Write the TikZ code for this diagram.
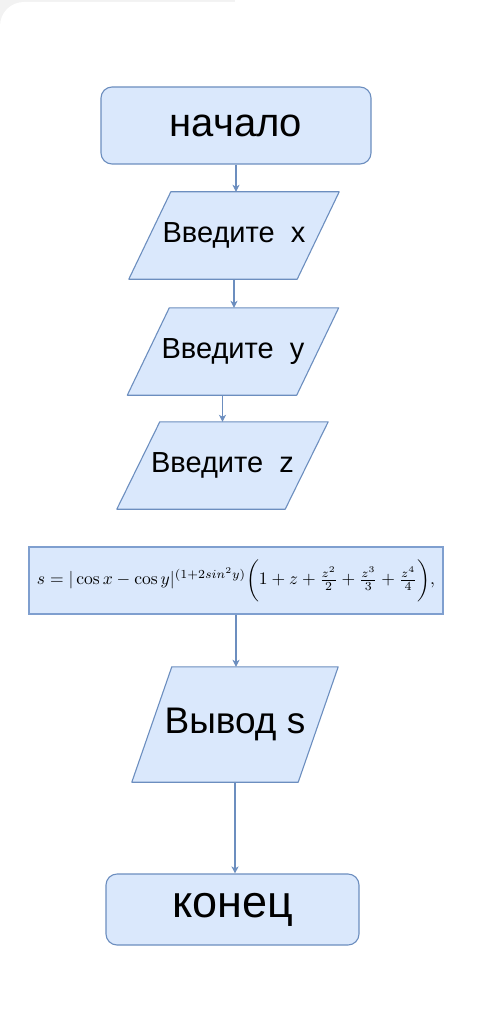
\documentclass[tikz,border=0pt]{standalone}
\usepackage{amsmath}
\usepackage[no-math]{fontspec}
\setmainfont{Liberation Sans}
\usepackage{graphicx}
\usetikzlibrary{arrows.meta,backgrounds}
\definecolor{boxfill}{HTML}{DAE8FC}
\definecolor{boxline}{HTML}{6C8EBF}
\definecolor{fline}{HTML}{7F9FCF}
\definecolor{bggray}{HTML}{F2F2F2}
\tikzset{
  term/.style={draw=boxline, fill=boxfill, line width=1.1pt, rounded corners=11pt, inner sep=0pt},
  iotext/.style={inner sep=0pt},
  iobox/.style={draw=boxline, fill=boxfill, line width=1.1pt, line join=round},
  calc/.style={draw=fline, fill=boxfill, line width=1.8pt, inner sep=0pt},
  arr/.style={draw=boxline, line width=1.1pt, -{Stealth[length=7pt,width=7pt,inset=2pt]}}
}
\newcommand\ioshape[2]{\path[iobox] ([xshift=#2]#1.north west) -- (#1.north east) -- ([xshift=-#2]#1.south east) -- (#1.south west) -- cycle;}
\begin{document}
\begin{tikzpicture}[x=1pt,y=-1pt]
\useasboundingbox (0,0) rectangle (476,1024);
\begin{scope}[on background layer]
\fill[bggray] (0,0) rectangle (476,1024);
\fill[white, rounded corners=24pt] (0,2) rectangle (540,1090);
\fill[white] (235,-1) rectangle (477,3);
\end{scope}
\node[term, minimum width=270pt, minimum height=77pt] (start) at (236,125.5) {\fontsize{40}{44}\selectfont начало};
\node[iotext, minimum width=210pt, minimum height=87pt] (in1) at (234,235.5) {\fontsize{29}{32}\selectfont Введите\ \ x};
\node[iotext, minimum width=211pt, minimum height=87pt] (in2) at (233,351.5) {\fontsize{29}{32}\selectfont Введите\ \ y};
\node[iotext, minimum width=211pt, minimum height=87pt] (in3) at (222.5,465.5) {\fontsize{29}{32}\selectfont Введите\ \ z};
\node[calc, minimum width=414pt, minimum height=67pt] (f) at (236,580.5)
  {\resizebox{398pt}{!}{$s=|\cos x-\cos y|^{(1+2sin^2y)}\biggl(1+z+\tfrac{z^2}{2}+\tfrac{z^3}{3}+\tfrac{z^4}{4}\biggr),$}};
\node[iotext, minimum width=206pt, minimum height=115pt] (out) at (235,724.5) {\fontsize{37}{40}\selectfont Вывод s};
\node[term, minimum width=253pt, minimum height=71pt] (end) at (232.5,909.5) {\fontsize{45}{48}\selectfont конец};
\begin{scope}[on background layer]
\ioshape{in1}{42pt}
\ioshape{in2}{42pt}
\ioshape{in3}{43pt}
\ioshape{out}{40pt}
\end{scope}
\draw[arr] (start.south) -- (start.south |- in1.north);
\draw[arr] (in1.south) -- (in1.south |- in2.north);
\draw[arr] (in3.north |- in2.south) -- (in3.north);
\draw[arr] (f.south) -- (f.south |- out.north);
\draw[arr] (out.south) -- (out.south |- end.north);
\end{tikzpicture}
\end{document}
